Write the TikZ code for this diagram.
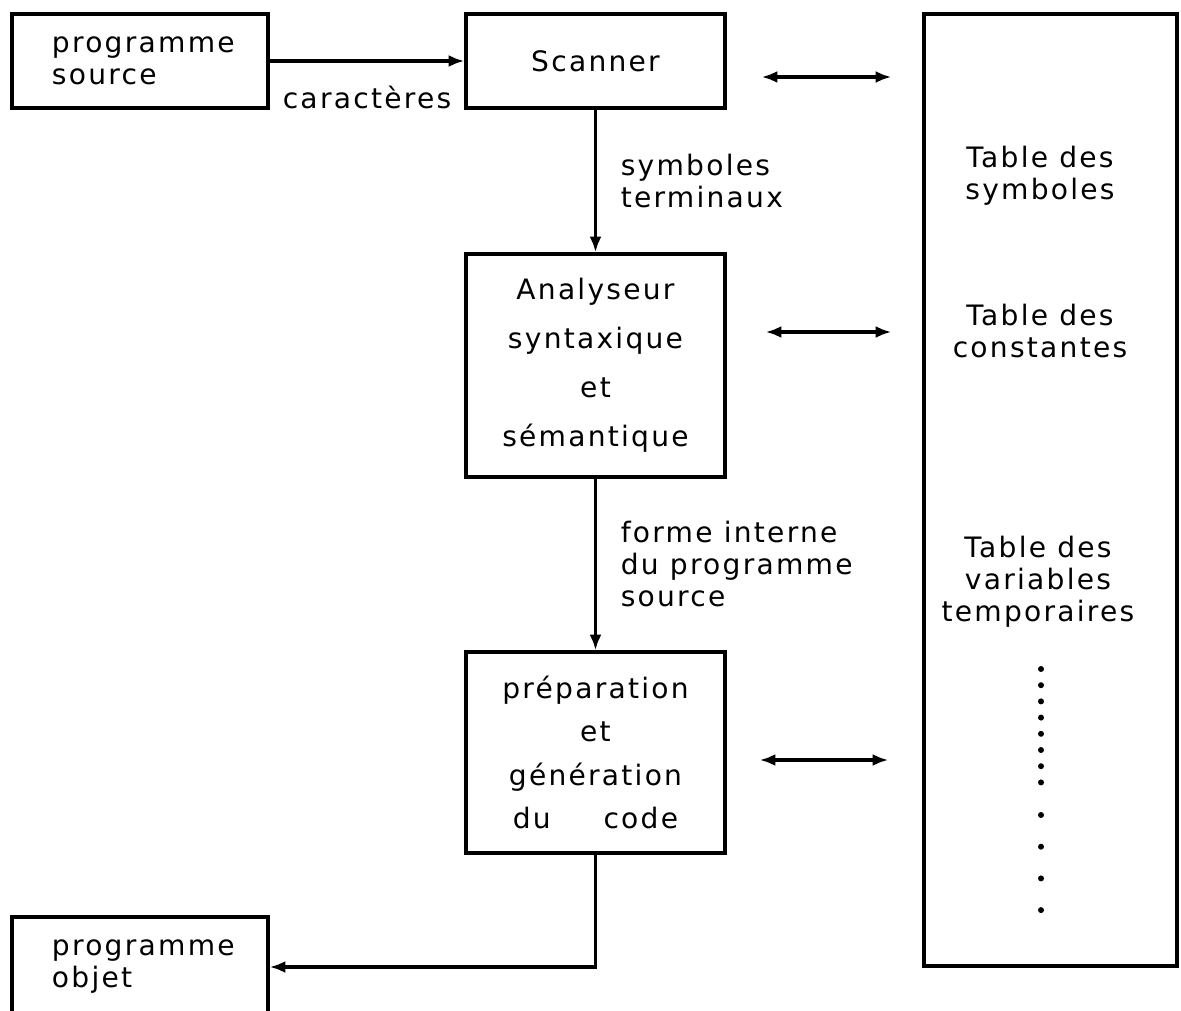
\documentclass[tikz,border=0pt]{standalone}
\usepackage{fontspec}
\setmainfont{DejaVu Sans}[LetterSpace=8]
\usetikzlibrary{arrows.meta,positioning}

\begin{document}
\begin{tikzpicture}[font=\fontsize{8}{9.1}\selectfont,
	box/.style={draw, line width=0.9pt, minimum width=2.59cm, inner sep=0pt, align=center},
	iobox/.style={draw, line width=0.9pt, minimum width=2.56cm, minimum height=0.94cm, text width=1.76cm, inner xsep=0.4cm, align=left},
	arr/.style={line width=0.9pt, -{Latex[length=4.5pt,width=3.4pt]}},
	darr/.style={line width=0.9pt, {Latex[length=4.5pt,width=3.4pt]}-{Latex[length=4.5pt,width=3.4pt]}}]
	\path[use as bounding box, clip] (0,0) rectangle (11.81,10.10);
	\node[iobox] (src) at (1.40,9.49) {programme\\source};
	\node[box, minimum height=0.94cm] (scan) at (5.955,9.49) {Scanner};
	\node[box, minimum height=2.23cm] (ana) at (5.955,6.445) {Analyseur\\[4.8pt]syntaxique\\[4.8pt]et\\[4.8pt]sémantique};
	\node[box, minimum height=2.01cm] (gen) at (5.955,2.575) {préparation\\[3.2pt]et\\[3.2pt]génération\\[3.2pt]du\hspace{15pt}code};
	\node[iobox, minimum height=1.0cm] (obj) at (1.40,0.43) {programme\\objet};
	\node[draw, line width=0.9pt, minimum width=2.53cm, minimum height=9.52cm] (tab) at (10.505,5.20) {};
	\node[align=center] (tsym) at (10.40,8.34) {Table des\\symboles};
	\node[align=center] (tcst) at (10.40,6.79) {Table des\\constantes};
	\node[align=center] (tvar) at (10.38,4.28) {Table des\\variables\\temporaires};
	\foreach \i in {0,...,7} \fill (10.41,3.41-0.162*\i) circle (0.03);
	\foreach \i in {0,...,3} \fill (10.41,1.95-0.317*\i) circle (0.03);
	\draw[arr] (src) -- (scan) node[midway, below=0.12cm] (car) {caractères};
	\draw[arr] (scan) -- (ana) node[midway, right=0.12cm, align=left] (symt) {symboles\\terminaux};
	\draw[arr] (ana) -- (gen) node[midway, right=0.12cm, align=left] (fint) {forme interne\\du programme\\source};
	\draw[arr] (gen) |- (obj);
	\draw[darr, shorten <=0.35cm, shorten >=0.31cm] ([yshift=-0.16cm]scan.east) -- ([yshift=-0.16cm]scan.east -| tab.west);
	\draw[darr, shorten <=0.39cm, shorten >=0.31cm] ([yshift=0.335cm]ana.east) -- ([yshift=0.335cm]ana.east -| tab.west);
	\draw[darr, shorten <=0.33cm, shorten >=0.34cm] ([yshift=-0.075cm]gen.east) -- ([yshift=-0.075cm]gen.east -| tab.west);
\end{tikzpicture}
\end{document}
